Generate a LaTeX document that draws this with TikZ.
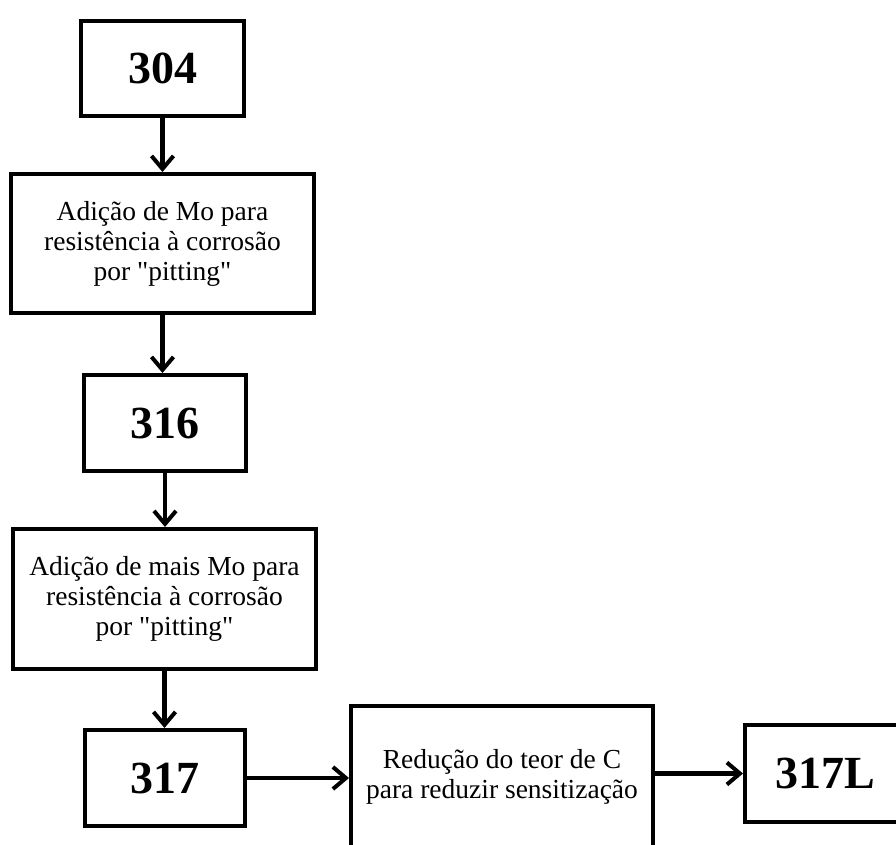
\documentclass[tikz,border=0pt]{standalone}
\usepackage{fontspec}
\setmainfont{Liberation Serif}
\usetikzlibrary{arrows.meta}
\begin{document}
\begin{tikzpicture}[x=1pt,y=-1pt,
    box/.style={draw,line width=4pt,inner sep=0pt,align=center},
    grade/.style={box,font=\fontsize{46}{50}\selectfont\bfseries},
    note/.style={box,font=\fontsize{27.5}{30}\selectfont},
    flow/.style={line width=4.5pt,-{Straight Barb[length=13pt,width=22pt,line width=4pt]}}]
            \path[use as bounding box,clip] (0,0) rectangle (896,844);

            \node[grade,minimum width=163,minimum height=95] (g304) at (162.5,68.5) {304};
            \node[note,minimum width=303,minimum height=139] (mo) at (162.5,243.5)
                {Adição de Mo para\\resistência à corrosão\\por \textquotedbl pitting\textquotedbl};
            \node[grade,minimum width=162,minimum height=96] (g316) at (165,423) {316};
            \node[note,minimum width=303,minimum height=140] (maismo) at (164.5,599)
                {Adição de mais Mo para\\resistência à corrosão\\por \textquotedbl pitting\textquotedbl};
            \node[grade,minimum width=160,minimum height=96] (g317) at (165,778) {317};
            \node[note,minimum width=302,minimum height=142] (reducao) at (502,777)
                {Redução do teor de C\\para reduzir sensitização};
            \node[grade,minimum width=160,minimum height=97] (g317L) at (825,773.5) {317L};

            \draw[flow] (g304.south) -- (g304.south |- mo.north);
            \draw[flow] (mo.south) -- (mo.south |- g316.north);
            \draw[flow] (g316.south) -- (g316.south |- maismo.north);
            \draw[flow] (maismo.south) -- (maismo.south |- g317.north);
            \draw[flow] (g317.east) -- (g317.east -| reducao.west);
            \draw[flow] (reducao.east |- g317L.west) -- (g317L.west);
        \end{tikzpicture}
\end{document}
